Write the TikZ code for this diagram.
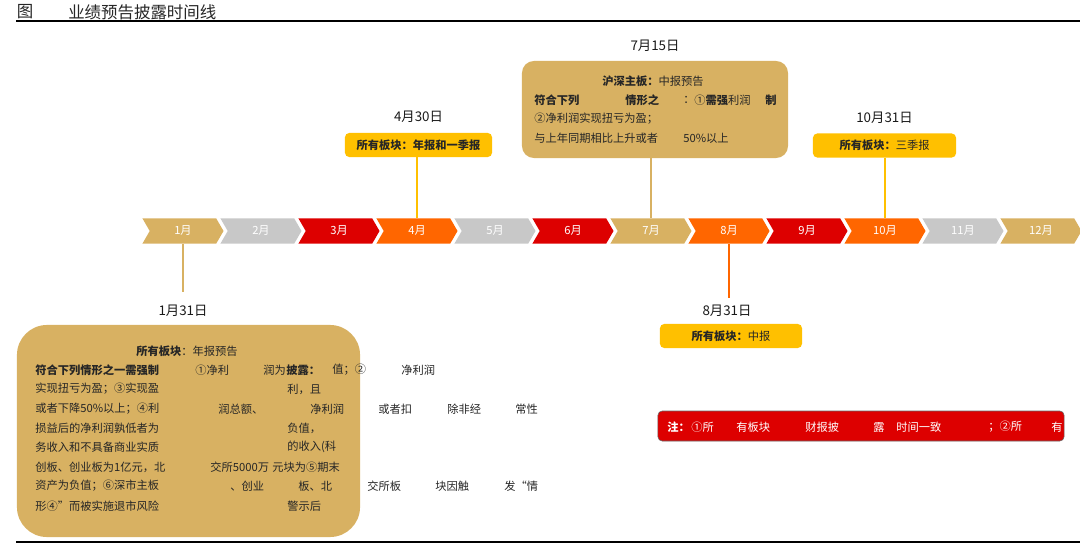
\documentclass[tikz,border=0pt]{standalone}
\usepackage{fontspec}
\setmainfont{Noto Sans CJK SC}
\usepackage{tikz}
\usetikzlibrary{positioning, shapes.symbols}

\definecolor{goldc}{RGB}{216,177,98}
\definecolor{grayc}{RGB}{200,200,200}
\definecolor{redc}{RGB}{221,0,0}
\definecolor{orangec}{RGB}{255,102,0}
\definecolor{yellowc}{RGB}{255,192,0}

\begin{document}
\begin{tikzpicture}[
    x=0.025cm, y=-0.025cm,
    every node/.style={font=\fontsize{8}{10}\selectfont, text=black!85},
    chev/.style={shape=signal, signal from=west, signal to=east, signal pointer angle=120, minimum width=2.025cm, minimum height=0.625cm, inner sep=0pt, text=white},
    tagbox/.style={fill=yellowc, rounded corners=3pt, minimum height=0.6cm, inner sep=2pt},
    goldbox/.style={fill=goldc, inner sep=0pt},
    notebox/.style={fill=redc, draw=black!60, line width=0.4pt, rounded corners=3pt, minimum width=10.15cm, minimum height=0.75cm},
    datelbl/.style={font=\fontsize{9.5}{11}\selectfont, text=black!90},
    frag/.style={anchor=west, inner sep=0pt},
    fragb/.style={frag, font=\fontsize{8}{10}\selectfont\bfseries},
    notefrag/.style={frag, text=white},
    conn/.style={line width=1.3pt},
    rule/.style={line width=1pt, black},
]
\useasboundingbox (0,0) rectangle (1080,546);

% ---- Title ----
\node[font=\fontsize{11.7}{14}\selectfont] (fig) at (25,12) {图};
\node[font=\fontsize{11.7}{14}\selectfont, anchor=west, inner sep=0pt] (title) at (68,12) {业绩预告披露时间线};
\draw[rule] (16,21) -- (1080,21);
\draw[rule] (16,542) -- (1080,542);

% ---- Month chevrons ----
\node[chev, fill=goldc] (m1) at (183,231) {1月};
\node[chev, fill=grayc] (m2) at (261,231) {2月};
\node[chev, fill=redc] (m3) at (339,231) {3月};
\node[chev, fill=orangec] (m4) at (417,231) {4月};
\node[chev, fill=grayc] (m5) at (495,231) {5月};
\node[chev, fill=redc] (m6) at (573,231) {6月};
\node[chev, fill=goldc] (m7) at (651,231) {7月};
\node[chev, fill=orangec] (m8) at (729,231) {8月};
\node[chev, fill=redc] (m9) at (807,231) {9月};
\node[chev, fill=orangec] (m10) at (885,231) {10月};
\node[chev, fill=grayc] (m11) at (963,231) {11月};
\node[chev, fill=goldc] (m12) at (1041,231) {12月};

% ---- 4月30日 ----
\node[tagbox, minimum width=3.675cm] (b430) at (418.5,145) {\bfseries 所有板块：年报和一季报};
\node[datelbl, above=0.12cm of b430] (d430) {4月30日};
\draw[conn, yellowc] (m4.north) -- (m4.north |- b430.south);

% ---- 7月15日 ----
\node[goldbox, rounded corners=0.3cm, minimum width=6.65cm, minimum height=2.425cm] (b715) at (655,109.5) {};
\node[datelbl, above=0.1cm of b715] (d715) {7月15日};
\node (h715) at (653,81) {\bfseries 沪深主板：\mdseries 中报预告};
\node[fragb] (s1) at (534,100) {符合下列};
\node[fragb] (s2) at (625,100) {情形之};
\node[frag] (s3) at (683,100) {：};
\node[frag] (s4) at (694,100) {①\textbf{需强}利润};
\node[fragb] (s5) at (765,100) {制};
\node[frag] (s6) at (534,119) {②净利润实现扭亏为盈；};
\node[frag] (s7) at (534,138) {与上年同期相比上升或者};
\node[frag] (s8) at (683,138) {50\%以上};
\draw[conn, goldc] (m7.north) -- (m7.north |- b715.south);

% ---- 10月31日 ----
\node[tagbox, minimum width=3.575cm] (b1031) at (884.5,145.5) {\bfseries 所有板块：\mdseries 三季报};
\node[datelbl, above=0.12cm of b1031] (d1031) {10月31日};
\draw[conn, yellowc] (m10.north) -- (m10.north |- b1031.south);

% ---- 8月31日 ----
\node[datelbl] (d831) at (727,311) {8月31日};
\node[tagbox, minimum width=3.55cm] (b831) at (731,336) {\bfseries 所有板块：\mdseries 中报};
\draw[conn, orangec, shorten >=0.5mm] (m8.south) -- (m8.south |- d831.north);

% ---- 1月31日 ----
\node[datelbl] (d131) at (183,311) {1月31日};
\node[goldbox, rounded corners=0.75cm, minimum width=8.575cm, minimum height=5.3cm] (b131) at (188.5,431) {};
\draw[conn, goldc, shorten >=2mm] (m1.south) -- (m1.south |- d131.north);
\node (h131) at (187,351) {\bfseries 所有板块\mdseries ：年报预告};
\node[fragb] (j1) at (35,370) {符合下列情形之一需强制};
\node[frag] (j2) at (195,370) {①净利};
\node[frag] (j3) at (263,370) {润为};
\node[fragb] (j4) at (286,370) {披露：};
\node[frag] (j5) at (332,370) {值；②};
\node[frag] (j6) at (401,370) {净利润};
\node[frag] (j7) at (35,389) {实现扭亏为盈；③实现盈};
\node[frag] (j8) at (287,389) {利，且};
\node[frag] (j9) at (35,409) {或者下降50\%以上；④利};
\node[frag] (j10) at (218,409) {润总额、};
\node[frag] (j11) at (310,409) {净利润};
\node[frag] (j12) at (378,409) {或者扣};
\node[frag] (j13) at (447,409) {除非经};
\node[frag] (j14) at (515,409) {常性};
\node[frag] (j15) at (35,428) {损益后的净利润孰低者为};
\node[frag] (j16) at (287,428) {负值，};
\node[frag] (j17) at (35,447) {务收入和不具备商业实质};
\node[frag] (j18) at (287,447) {的收入(科};
\node[frag] (j19) at (35,467) {创板、创业板为1亿元，北};
\node[frag] (j20) at (210,467) {交所5000万};
\node[frag] (j21) at (272,467) {元块为⑤期末};
\node[frag] (j22) at (35,486) {资产为负值；⑥深市主板};
\node[frag] (j23) at (230,486) {、创业};
\node[frag] (j24) at (298,486) {板、北};
\node[frag] (j25) at (367,486) {交所板};
\node[frag] (j26) at (435,486) {块因触};
\node[frag] (j27) at (504,486) {发“情};
\node[frag] (j28) at (35,506) {形④”而被实施退市风险};
\node[frag] (j29) at (287,506) {警示后};

% ---- Note ----
\node[notebox] (note) at (861,426) {};
\node[notefrag, font=\fontsize{8}{10}\selectfont\bfseries] (n1) at (667,427) {注：};
\node[notefrag] (n2) at (691,427) {①所};
\node[notefrag] (n3) at (736,427) {有板块};
\node[notefrag] (n4) at (805,427) {财报披};
\node[notefrag] (n5) at (873,427) {露};
\node[notefrag] (n6) at (896,427) {时间一致};
\node[notefrag] (n7) at (988,427) {；②所};
\node[notefrag] (n8) at (1051,427) {有};

\end{tikzpicture}
\end{document}
